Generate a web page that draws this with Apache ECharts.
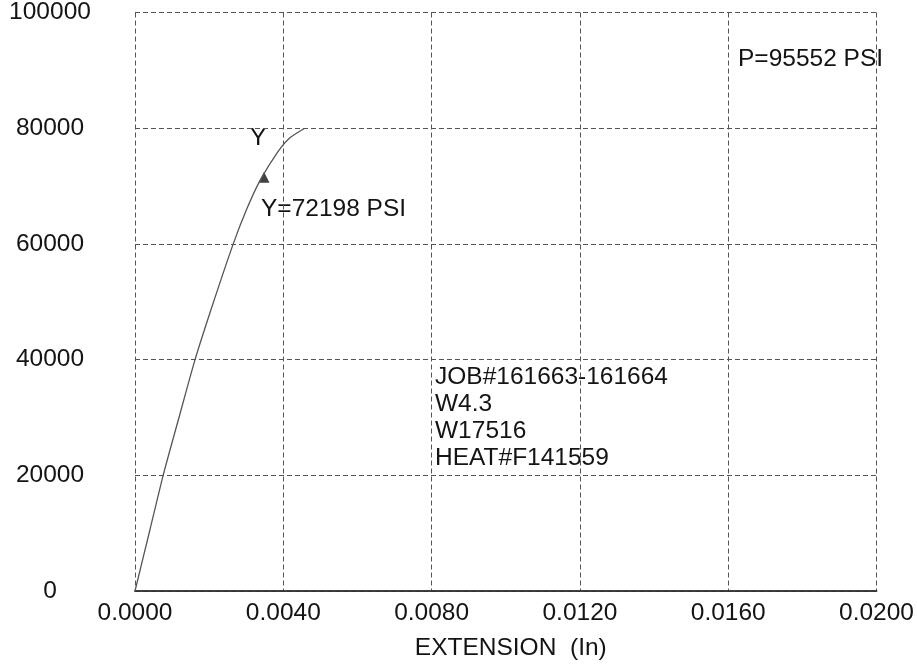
<!DOCTYPE html>
<html>
<head>
<meta charset="utf-8">
<script src="https://cdn.jsdelivr.net/npm/echarts@6/dist/echarts.min.js"></script>
<style>
html,body{margin:0;padding:0;background:#fff;}
#chart{width:917px;height:666px;}
</style>
</head>
<body>
<div id="chart"></div>
<script>
// Data
const extension = [0, 0.0004, 0.00076, 0.0012, 0.00162, 0.0021, 0.00265, 0.003, 0.00336, 0.00386, 0.00417, 0.00458];
const stress    = [0, 10500, 20000, 30300, 40000, 49600, 60000, 65800, 70800, 76000, 78300, 80000];
const yieldPoint = [0.00348, 71500];
const xTicks = [0, 0.004, 0.008, 0.012, 0.016, 0.020];
const yTicks = [0, 20000, 40000, 60000, 80000, 100000];
const yieldLabel = 'Y=72198 PSI';
const peakLabel = 'P=95552 PSI';
const infoLines = ['JOB#161663-161664', 'W4.3', 'W17516', 'HEAT#F141559'];
const xTitle = 'EXTENSION  (In)';

const FONT = '"Liberation Sans", Arial, sans-serif';
const TXT = '#141414';
const FS = 24.5;
const chart = echarts.init(document.getElementById('chart'));

const curve = extension.map((x, i) => [x, stress[i]]);

const gridLine = {show: true, lineStyle: {color: '#555', width: 1, type: [5, 3]}};

const option = {
  backgroundColor: '#fff',
  animation: false,
  grid: {left: 135, right: 39, top: 11, bottom: 75, containLabel: false},
  xAxis: [{
    type: 'value', min: xTicks[0], max: xTicks[xTicks.length - 1], interval: 0.004,
    name: xTitle, nameLocation: 'middle', nameGap: 45,
    nameTextStyle: {fontFamily: FONT, fontSize: FS, color: TXT, padding: [0, 0, 0, 10]},
    axisLine: {show: true, onZero: false, lineStyle: {color: '#333', width: 1.5}},
    axisTick: {show: false},
    axisLabel: {fontFamily: FONT, fontSize: FS, color: TXT, margin: 10,
      formatter: v => v.toFixed(4)},
    splitLine: gridLine
  }, {
    type: 'value', position: 'top', min: xTicks[0], max: xTicks[xTicks.length - 1],
    axisLine: {show: true, lineStyle: {color: '#333', width: 1.5}},
    axisTick: {show: false}, axisLabel: {show: false}, splitLine: {show: false}
  }],
  yAxis: {
    type: 'value', min: yTicks[0], max: yTicks[yTicks.length - 1], interval: 20000,
    axisLine: {show: false}, axisTick: {show: false},
    axisLabel: {fontFamily: FONT, fontSize: FS, color: TXT, margin: 85, align: 'center',
      formatter: v => String(v)},
    splitLine: gridLine
  },
  series: [{
    type: 'line', data: curve, smooth: 0.25, symbol: 'none', xAxisIndex: 0,
    lineStyle: {color: '#555', width: 1.3}
  }, {
    type: 'scatter', data: [yieldPoint], symbol: 'triangle', symbolSize: 11, xAxisIndex: 0,
    itemStyle: {color: '#111'}
  }],
  graphic: [
    {type: 'text', left: 250, top: 126, style: {text: 'Y', font: FS + 'px ' + FONT, fill: TXT}},
    {type: 'text', left: 261, top: 197, style: {text: yieldLabel, font: FS + 'px ' + FONT, fill: TXT}},
    {type: 'text', left: 738, top: 47, style: {text: peakLabel, font: FS + 'px ' + FONT, fill: TXT}},
    {type: 'text', left: 435, top: 364, style: {text: infoLines.join('\n'), font: FS + 'px ' + FONT, fill: TXT, lineHeight: 27}}
  ]
};
chart.setOption(option);
</script>
</body>
</html>
